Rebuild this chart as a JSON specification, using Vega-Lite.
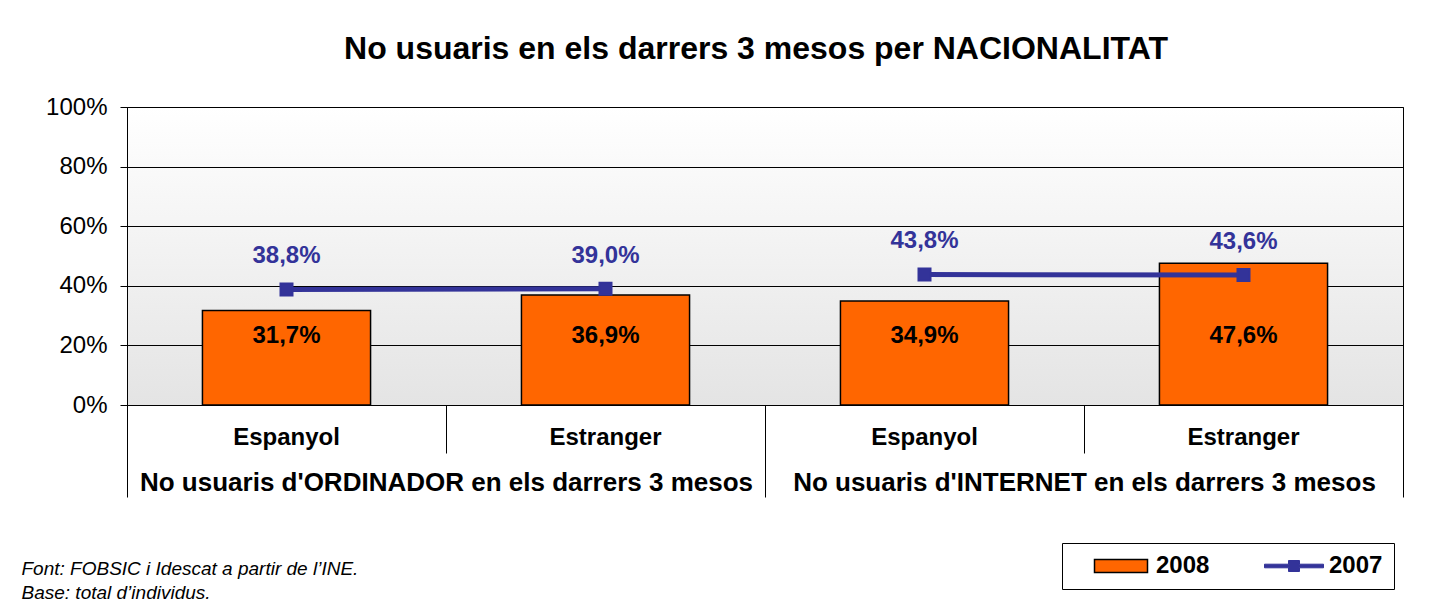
{
  "$schema": "https://vega.github.io/schema/vega-lite/v6.json",
  "width": 1276,
  "height": 298,
  "autosize": {"type": "none"},
  "padding": {"left": 127, "top": 107, "right": 28, "bottom": 196},
  "background": "white",
  "title": {
    "text": "No usuaris en els darrers 3 mesos per NACIONALITAT",
    "font": "Liberation Sans",
    "fontSize": 32,
    "fontWeight": "bold",
    "color": "black",
    "anchor": "middle",
    "frame": "group",
    "baseline": "alphabetic",
    "offset": 4,
    "dx": -9
  },
  "config": {
    "font": "Liberation Sans",
    "locale": {"number": {"decimal": ",", "thousands": ".", "grouping": [3], "currency": ["", " €"]}},
    "view": {
      "stroke": "black",
      "strokeWidth": 1,
      "fill": {
        "gradient": "linear",
        "x1": 0, "y1": 0, "x2": 0, "y2": 1,
        "stops": [{"offset": 0, "color": "#ffffff"}, {"offset": 1, "color": "#e4e4e4"}]
      }
    },
    "axis": {
      "labelColor": "black",
      "tickColor": "black",
      "domainColor": "black",
      "gridColor": "black",
      "gridOpacity": 1,
      "tickOpacity": 1,
      "domainOpacity": 1
    },
    "axisY": {
      "title": null,
      "values": [0, 0.2, 0.4, 0.6, 0.8, 1],
      "format": ".0%",
      "grid": true,
      "gridWidth": 1,
      "tickSize": 7,
      "labelPadding": 13,
      "labelFontSize": 24,
      "labelFontWeight": "normal"
    },
    "legend": {
      "title": null,
      "orient": "none",
      "direction": "horizontal",
      "padding": 11,
      "symbolSize": 400,
      "symbolOffset": 36,
      "labelOffset": 23,
      "labelFontSize": 24,
      "labelFontWeight": "bold",
      "labelColor": "black",
      "labelLimit": 0,
      "symbolOpacity": 1
    }
  },
  "data": {
    "values": [
      {"cat": "OE", "group": "ORD", "sub": "Espanyol", "v2008": 0.317, "v2007": 0.388},
      {"cat": "OX", "group": "ORD", "sub": "Estranger", "v2008": 0.369, "v2007": 0.390},
      {"cat": "IE", "group": "INT", "sub": "Espanyol", "v2008": 0.349, "v2007": 0.438},
      {"cat": "IX", "group": "INT", "sub": "Estranger", "v2008": 0.476, "v2007": 0.436}
    ]
  },
  "layer": [
    {
      "mark": {"type": "bar", "width": {"band": 0.527}, "stroke": "black", "strokeWidth": 1.5},
      "encoding": {
        "x": {
          "field": "cat", "type": "nominal", "sort": null,
          "scale": {"domain": ["OE", "OX", "IE", "IX"], "paddingInner": 0, "paddingOuter": 0},
          "axis": {
            "orient": "bottom",
            "title": null,
            "domain": false,
            "ticks": false,
            "labelExpr": "datum.value === 'OE' || datum.value === 'IE' ? 'Espanyol' : 'Estranger'",
            "labelFontSize": 24,
            "labelFontWeight": "bold",
            "labelPadding": 20,
            "labelAngle": 0
          }
        },
        "y": {
          "field": "v2008", "type": "quantitative",
          "scale": {"domain": [0, 1]},
          "axis": {"title": null, "values": [0, 0.2, 0.4, 0.6, 0.8, 1], "format": ".0%", "grid": true}
        },
        "fill": {
          "datum": "2008",
          "scale": {"domain": ["2008"], "range": ["#FF6600"]},
          "legend": {
            "legendX": 935,
            "legendY": 436,
            "symbolType": "M-2.65,-0.65H2.65V0.65H-2.65Z",
            "symbolStrokeColor": "black",
            "symbolStrokeWidth": 1.5
          }
        }
      }
    },
    {
      "mark": {"type": "text", "fontSize": 24, "fontWeight": "bold", "color": "black", "baseline": "middle"},
      "encoding": {
        "x": {"field": "cat", "type": "nominal", "sort": null, "axis": null},
        "y": {"datum": 0.23, "type": "quantitative", "axis": {"title": null, "values": [0, 0.2, 0.4, 0.6, 0.8, 1], "format": ".0%", "grid": true}},
        "text": {"field": "v2008", "type": "quantitative", "format": ".1%"}
      }
    },
    {
      "mark": {"type": "line", "strokeWidth": 5},
      "encoding": {
        "x": {
          "field": "cat", "type": "nominal", "sort": null,
          "axis": {
            "orient": "bottom",
            "title": null,
            "domain": false,
            "labels": false,
            "ticks": true,
            "tickBand": "extent",
            "tickWidth": 1,
            "tickSize": {"condition": {"test": "datum.value !== 'OE' && datum.value !== 'IE'", "value": 92}, "value": 48}
          }
        },
        "y": {"field": "v2007", "type": "quantitative", "axis": {"title": null, "values": [0, 0.2, 0.4, 0.6, 0.8, 1], "format": ".0%", "grid": true}},
        "detail": {"field": "group"},
        "stroke": {
          "datum": "2007",
          "scale": {"domain": ["2007"], "range": ["#333399"]},
          "legend": {
            "legendX": 935,
            "legendY": 436,
            "strokeColor": "black",
            "symbolOffset": 209,
            "symbolType": "M-2.95,-0.18H-0.55V-0.55H0.55V-0.18H2.95V0.18H0.55V0.55H-0.55V0.18H-2.95Z",
            "symbolFillColor": "#333399",
            "symbolStrokeColor": "#333399",
            "symbolStrokeWidth": 1
          }
        }
      }
    },
    {
      "mark": {"type": "square", "size": 144, "filled": true, "opacity": 1, "fill": "#333399"},
      "encoding": {
        "x": {
          "field": "cat", "type": "nominal", "sort": null,
          "axis": {
            "orient": "bottom",
            "title": ["Font: FOBSIC i Idescat a partir de l’INE.", "Base: total d’individus."],
            "titleFontSize": 19,
            "titleFontWeight": "normal",
            "titleFontStyle": "italic",
            "titleColor": "black",
            "titleAlign": "left",
            "titleBaseline": "alphabetic",
            "titleLineHeight": 24,
            "titleX": -106,
            "titleY": 169,
            "domain": false,
            "ticks": false,
            "bandPosition": 0.5,
            "tickOffset": 159.5,
            "labelExpr": "datum.value === 'OE' ? \"No usuaris d'ORDINADOR en els darrers 3 mesos\" : datum.value === 'IE' ? \"No usuaris d'INTERNET en els darrers 3 mesos\" : ''",
            "labelFontSize": 26,
            "labelFontWeight": "bold",
            "labelPadding": 64,
            "labelLimit": 0,
            "labelAngle": 0
          }
        },
        "y": {"field": "v2007", "type": "quantitative", "axis": {"title": null, "values": [0, 0.2, 0.4, 0.6, 0.8, 1], "format": ".0%", "grid": true}},
        "stroke": {"datum": "2007"}
      }
    },
    {
      "mark": {"type": "text", "fontSize": 24, "fontWeight": "bold", "color": "#333399", "baseline": "middle", "dy": -33},
      "encoding": {
        "x": {"field": "cat", "type": "nominal", "sort": null, "axis": null},
        "y": {"field": "v2007", "type": "quantitative", "axis": {"title": null, "values": [0, 0.2, 0.4, 0.6, 0.8, 1], "format": ".0%", "grid": true}},
        "text": {"field": "v2007", "type": "quantitative", "format": ".1%"}
      }
    }
  ],
  "resolve": {"axis": {"x": "independent"}}
}
